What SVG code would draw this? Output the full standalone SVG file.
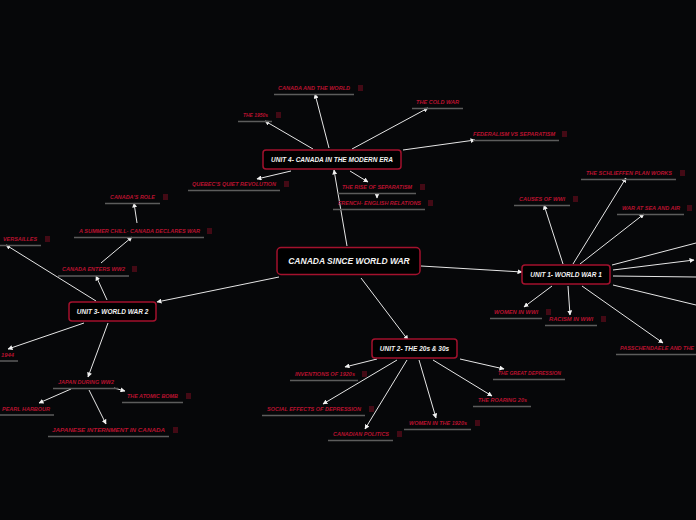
<svg xmlns="http://www.w3.org/2000/svg" width="696" height="520" viewBox="0 0 696 520">
<defs>
<style>
.bg{fill:#060709}
.box{fill:#000;stroke:#a3112d;stroke-width:1.5}
.ut{font-family:"Liberation Sans",Arial,sans-serif;font-style:italic;font-weight:bold;fill:#f2f2f2;text-anchor:middle}
.lt{font-family:"Liberation Sans",Arial,sans-serif;font-style:italic;font-weight:bold;fill:#b8122f;font-size:5.6px}
.ul{stroke:#5c5c5c;stroke-width:1.5}
.ic{stroke:#b8122f;stroke-width:0.7;fill:none}
.c{stroke:#e6e6e6;stroke-width:1;fill:none}
.ca{stroke:#e6e6e6;stroke-width:1;fill:none;marker-end:url(#ah)}
</style>
<marker id="ah" viewBox="0 0 10 10" refX="9" refY="5" markerWidth="5" markerHeight="5" markerUnits="userSpaceOnUse" orient="auto">
<path d="M0,0 L10,5 L0,10 z" fill="#f2f2f2"/>
</marker>
</defs>
<rect class="bg" x="0" y="0" width="696" height="520"/>

<g id="connectors">
<line class="ca" x1="347" y1="246" x2="334" y2="170"/>
<line class="ca" x1="421" y1="266" x2="522" y2="272"/>
<line class="ca" x1="279" y1="277" x2="157" y2="302"/>
<line class="ca" x1="361" y1="278" x2="408" y2="340"/>
<line class="ca" x1="329" y1="148" x2="315" y2="94"/>
<line class="ca" x1="313" y1="149" x2="265" y2="121"/>
<line class="ca" x1="352" y1="149" x2="428" y2="108"/>
<line class="ca" x1="403" y1="150" x2="475" y2="140"/>
<line class="ca" x1="291" y1="171" x2="257" y2="179"/>
<line class="ca" x1="350" y1="171" x2="368" y2="182"/>
<line class="ca" x1="377" y1="193" x2="377" y2="198"/>
<line class="ca" x1="563" y1="264" x2="544" y2="205"/>
<line class="ca" x1="573" y1="264" x2="626" y2="178"/>
<line class="ca" x1="580" y1="264" x2="644" y2="214"/>
<line class="c" x1="612" y1="265" x2="696" y2="243"/>
<line class="ca" x1="613" y1="270" x2="694" y2="260"/>
<line class="c" x1="613" y1="276" x2="696" y2="277"/>
<line class="c" x1="613" y1="285" x2="696" y2="305"/>
<line class="ca" x1="552" y1="286" x2="524" y2="307"/>
<line class="ca" x1="568" y1="286" x2="570" y2="315"/>
<line class="ca" x1="582" y1="286" x2="663" y2="343"/>
<line class="ca" x1="107" y1="300" x2="96" y2="276"/>
<line class="ca" x1="101" y1="263" x2="132" y2="237"/>
<line class="ca" x1="137" y1="223" x2="134" y2="203"/>
<line class="ca" x1="96" y1="301" x2="6" y2="245"/>
<line class="ca" x1="84" y1="323" x2="8" y2="349"/>
<line class="ca" x1="108" y1="323" x2="88" y2="377"/>
<line class="ca" x1="114" y1="388" x2="125" y2="391"/>
<line class="ca" x1="71" y1="389" x2="39" y2="403"/>
<line class="ca" x1="89" y1="390" x2="106" y2="424"/>
<line class="ca" x1="377" y1="359" x2="345" y2="367"/>
<line class="ca" x1="397" y1="360" x2="323" y2="404"/>
<line class="ca" x1="407" y1="360" x2="365" y2="429"/>
<line class="ca" x1="419" y1="360" x2="436" y2="418"/>
<line class="ca" x1="433" y1="360" x2="492" y2="396"/>
<line class="ca" x1="460" y1="359" x2="504" y2="369"/>
</g>

<g id="center">
<rect class="box" x="277" y="247.5" width="143" height="27" rx="4"/>
<text class="ut" x="349" y="264" font-size="8.5">CANADA SINCE WORLD WAR</text>
</g>
<g id="unit4">
<rect class="box" x="263" y="150" width="138" height="19" rx="3"/>
<text class="ut" x="332" y="162" font-size="6.5">UNIT 4- CANADA IN THE MODERN ERA</text>
</g>
<g id="unit1">
<rect class="box" x="522" y="265" width="88" height="19" rx="3"/>
<text class="ut" x="566" y="277" font-size="6.5">UNIT 1- WORLD WAR 1</text>
</g>
<g id="unit3">
<rect class="box" x="69" y="302" width="87" height="19" rx="3"/>
<text class="ut" x="112.5" y="314" font-size="6.5">UNIT 3- WORLD WAR 2</text>
</g>
<g id="unit2">
<rect class="box" x="372" y="339" width="85" height="19" rx="3"/>
<text class="ut" x="414.5" y="351" font-size="6.5">UNIT 2- THE 20s &amp; 30s</text>
</g>

<g id="canada-world"><text class="lt" x="278" y="90" textLength="72" lengthAdjust="spacingAndGlyphs">CANADA AND THE WORLD</text><line class="ul" x1="274" y1="94.5" x2="354" y2="94.5"/><path class="ic" d="M358,86h5M358,88h5M358,90h5"/></g>
<g id="the-1950s"><text class="lt" x="243" y="117" textLength="25" lengthAdjust="spacingAndGlyphs">THE 1950s</text><line class="ul" x1="238" y1="121.5" x2="272" y2="121.5"/><path class="ic" d="M276,113h5M276,115h5M276,117h5"/></g>
<g id="cold-war"><text class="lt" x="416" y="104" textLength="43" lengthAdjust="spacingAndGlyphs">THE COLD WAR</text><line class="ul" x1="412" y1="108.5" x2="463" y2="108.5"/></g>
<g id="federalism"><text class="lt" x="473" y="136" textLength="82" lengthAdjust="spacingAndGlyphs">FEDERALISM VS SEPARATISM</text><line class="ul" x1="473" y1="140.5" x2="559" y2="140.5"/><path class="ic" d="M562,132h5M562,134h5M562,136h5"/></g>
<g id="quiet-revolution"><text class="lt" x="192" y="186" textLength="84" lengthAdjust="spacingAndGlyphs">QUEBEC'S QUIET REVOLUTION</text><line class="ul" x1="188" y1="190.5" x2="280" y2="190.5"/><path class="ic" d="M284,182h5M284,184h5M284,186h5"/></g>
<g id="rise-separatism"><text class="lt" x="342" y="189" textLength="70" lengthAdjust="spacingAndGlyphs">THE RISE OF SEPARATISM</text><line class="ul" x1="338" y1="193.5" x2="416" y2="193.5"/><path class="ic" d="M420,185h5M420,187h5M420,189h5"/></g>
<g id="french-english"><text class="lt" x="338" y="205" textLength="83" lengthAdjust="spacingAndGlyphs">FRENCH- ENGLISH RELATIONS</text><line class="ul" x1="333" y1="209.5" x2="425" y2="209.5"/><path class="ic" d="M428,201h5M428,203h5M428,205h5"/></g>

<g id="schlieffen"><text class="lt" x="586" y="175" textLength="86" lengthAdjust="spacingAndGlyphs">THE SCHLIEFFEN PLAN WORKS</text><line class="ul" x1="581" y1="179.5" x2="676" y2="179.5"/><path class="ic" d="M680,171h5M680,173h5M680,175h5"/></g>
<g id="causes-wwi"><text class="lt" x="519" y="201" textLength="46" lengthAdjust="spacingAndGlyphs">CAUSES OF WWI</text><line class="ul" x1="514" y1="205.5" x2="570" y2="205.5"/><path class="ic" d="M573,197h5M573,199h5M573,201h5"/></g>
<g id="war-sea-air"><text class="lt" x="622" y="210" textLength="58" lengthAdjust="spacingAndGlyphs">WAR AT SEA AND AIR</text><line class="ul" x1="617" y1="214.5" x2="684" y2="214.5"/><path class="ic" d="M687,206h5M687,208h5M687,210h5"/></g>
<g id="women-wwi"><text class="lt" x="494" y="314" textLength="44" lengthAdjust="spacingAndGlyphs">WOMEN IN WWI</text><line class="ul" x1="490" y1="318.5" x2="542" y2="318.5"/><path class="ic" d="M546,310h5M546,312h5M546,314h5"/></g>
<g id="racism-wwi"><text class="lt" x="549" y="321" textLength="44" lengthAdjust="spacingAndGlyphs">RACISM IN WWI</text><line class="ul" x1="545" y1="325.5" x2="597" y2="325.5"/><path class="ic" d="M601,317h5M601,319h5M601,321h5"/></g>
<g id="passchendaele"><text class="lt" x="620" y="350" textLength="74" lengthAdjust="spacingAndGlyphs">PASSCHENDAELE AND THE</text><line class="ul" x1="616" y1="354.5" x2="696" y2="354.5"/></g>

<g id="canadas-role"><text class="lt" x="110" y="199" textLength="45" lengthAdjust="spacingAndGlyphs">CANADA'S ROLE</text><line class="ul" x1="105" y1="203.5" x2="160" y2="203.5"/><path class="ic" d="M163,195h5M163,197h5M163,199h5"/></g>
<g id="summer-chill"><text class="lt" x="79" y="233" textLength="121" lengthAdjust="spacingAndGlyphs">A SUMMER CHILL- CANADA DECLARES WAR</text><line class="ul" x1="74" y1="237.5" x2="204" y2="237.5"/><path class="ic" d="M207,229h5M207,231h5M207,233h5"/></g>
<g id="versailles"><text class="lt" x="3" y="241" textLength="34" lengthAdjust="spacingAndGlyphs">VERSAILLES</text><line class="ul" x1="0" y1="245.5" x2="41" y2="245.5"/><path class="ic" d="M45,237h5M45,239h5M45,241h5"/></g>
<g id="canada-enters"><text class="lt" x="62" y="271" textLength="63" lengthAdjust="spacingAndGlyphs">CANADA ENTERS WW2</text><line class="ul" x1="58" y1="276" x2="129" y2="276"/><path class="ic" d="M132,267h5M132,269h5M132,271h5"/></g>
<g id="y1944"><text class="lt" x="1" y="357" textLength="13" lengthAdjust="spacingAndGlyphs">1944</text><line class="ul" x1="0" y1="361" x2="18" y2="361"/></g>
<g id="japan-ww2"><text class="lt" x="58" y="384" textLength="56" lengthAdjust="spacingAndGlyphs">JAPAN DURING WW2</text><line class="ul" x1="53" y1="388.5" x2="118" y2="388.5"/></g>
<g id="atomic-bomb"><text class="lt" x="127" y="398" textLength="51" lengthAdjust="spacingAndGlyphs">THE ATOMIC BOMB</text><line class="ul" x1="122" y1="402.5" x2="183" y2="402.5"/><path class="ic" d="M186,394h5M186,396h5M186,398h5"/></g>
<g id="pearl-harbour"><text class="lt" x="2" y="411" textLength="48" lengthAdjust="spacingAndGlyphs">PEARL HARBOUR</text><line class="ul" x1="0" y1="415" x2="54" y2="415"/></g>
<g id="internment"><text class="lt" x="52" y="432" textLength="113" lengthAdjust="spacingAndGlyphs">JAPANESE INTERNMENT IN CANADA</text><line class="ul" x1="48" y1="436.5" x2="169" y2="436.5"/><path class="ic" d="M173,428h5M173,430h5M173,432h5"/></g>

<g id="inventions"><text class="lt" x="295" y="376" textLength="60" lengthAdjust="spacingAndGlyphs">INVENTIONS OF 1920s</text><line class="ul" x1="290" y1="380.5" x2="358" y2="380.5"/><path class="ic" d="M362,372h5M362,374h5M362,376h5"/></g>
<g id="great-depression"><text class="lt" x="498" y="375" textLength="63" lengthAdjust="spacingAndGlyphs">THE GREAT DEPRESSION</text><line class="ul" x1="493" y1="379.5" x2="565" y2="379.5"/></g>
<g id="roaring-20s"><text class="lt" x="478" y="402" textLength="49" lengthAdjust="spacingAndGlyphs">THE ROARING 20s</text><line class="ul" x1="473" y1="406.5" x2="531" y2="406.5"/></g>
<g id="social-effects"><text class="lt" x="267" y="411" textLength="94" lengthAdjust="spacingAndGlyphs">SOCIAL EFFECTS OF DEPRESSION</text><line class="ul" x1="262" y1="415.5" x2="365" y2="415.5"/><path class="ic" d="M369,407h5M369,409h5M369,411h5"/></g>
<g id="women-1920s"><text class="lt" x="409" y="425" textLength="58" lengthAdjust="spacingAndGlyphs">WOMEN IN THE 1920s</text><line class="ul" x1="404" y1="429.5" x2="471" y2="429.5"/><path class="ic" d="M475,421h5M475,423h5M475,425h5"/></g>
<g id="canadian-politics"><text class="lt" x="333" y="436" textLength="56" lengthAdjust="spacingAndGlyphs">CANADIAN POLITICS</text><line class="ul" x1="328" y1="440.5" x2="393" y2="440.5"/><path class="ic" d="M397,432h5M397,434h5M397,436h5"/></g>
</svg>
